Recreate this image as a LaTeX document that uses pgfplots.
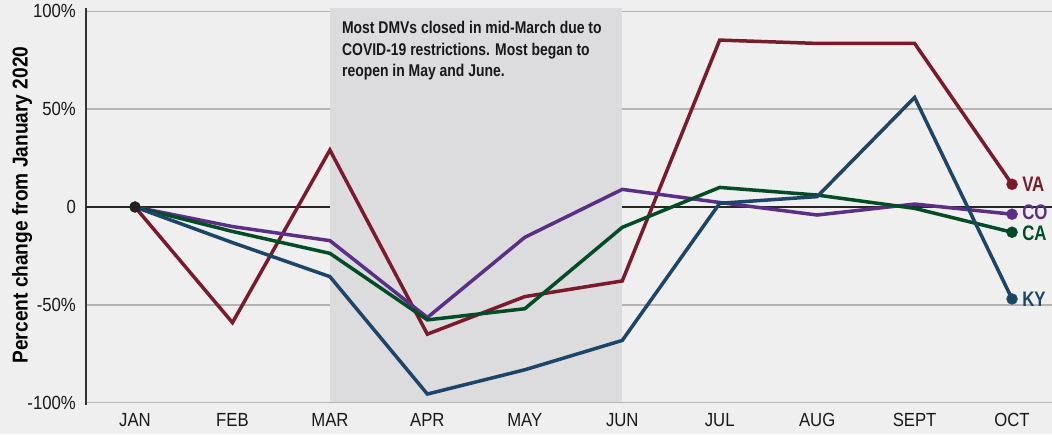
\documentclass[border=0pt]{standalone}
\usepackage{pgfplots}
\pgfplotsset{compat=1.18}
\usepackage{fontspec}
\setmainfont{Liberation Sans}
\newfontfamily\tickfont[FakeStretch=0.88]{Liberation Sans}
\newfontfamily\notefont[FakeStretch=0.82]{Liberation Sans}
\newfontfamily\labfont[FakeStretch=0.80]{Liberation Sans}
\newfontfamily\yfont[FakeStretch=0.89]{Liberation Sans}
\definecolor{bg}{HTML}{EFEFEF}
\definecolor{shadec}{HTML}{DCDCDE}
\definecolor{gridc}{HTML}{B4B4B4}
\definecolor{va}{HTML}{7A1A2B}
\definecolor{co}{HTML}{5C2F86}
\definecolor{ca}{HTML}{004D26}
\definecolor{ky}{HTML}{1D4568}
\definecolor{dot}{HTML}{231F20}

\pgfplotstableread{
x y
0 0
1 -59.1
2 29.1
3 -65
4 -45.8
5 -37.8
6 85.3
7 83.6
8 83.6
9 11.6
}\vadata
\pgfplotstableread{
x y
0 0
1 -10
2 -17.2
3 -56.5
4 -15.5
5 9
6 2.3
7 -4.1
8 1.5
9 -3.7
}\codata
\pgfplotstableread{
x y
0 0
1 -12.5
2 -23.7
3 -57.7
4 -52
5 -10.4
6 10
7 6.1
8 -0.7
9 -12.9
}\cadata
\pgfplotstableread{
x y
0 0
1 -18.2
2 -35.6
3 -95.6
4 -83.2
5 -68.2
6 1.9
7 5.3
8 56
9 -47
}\kydata

\begin{document}
\begin{tikzpicture}[x=1pt,y=1pt]
\fill[bg] (0,0) rectangle (1052,434);
\begin{axis}[
  at={(86pt,29pt)}, anchor=south west,
  scale only axis, width=966pt, height=397pt,
  xmin=-0.503, xmax=9.41, ymin=-101.2, ymax=101.7,
  axis x line*=bottom, axis y line*=left,
  x axis line style={draw=none},
  y axis line style={-, draw=black!80, line width=1.5pt},
  major tick length=0pt,
  xtick={0,...,9},
  xticklabels={JAN,FEB,MAR,APR,MAY,JUN,JUL,AUG,SEPT,OCT},
  ytick={-100,-50,50,100},
  yticklabels={-100\%,-50\%,50\%,100\%},
  extra y ticks={0}, extra y tick labels={0},
  extra y tick style={grid style={draw=black!85, line width=1.2pt}},
  ymajorgrids, grid style={draw=gridc, line width=1.5pt},
  tick label style={font=\tickfont\fontsize{19}{19}\selectfont, text=black!90},
  yticklabel style={inner sep=0pt, xshift=-10pt},
  xticklabel style={anchor=north, inner sep=0pt, yshift=-8pt},
  clip=false,
]
\fill[shadec] (axis cs:2,-99.6) rectangle (axis cs:5,101.7);
\node[anchor=north west, inner sep=0pt, align=left, font=\notefont\bfseries\fontsize{17}{21.7}\selectfont, text=black!90]
  at (axis cs:2,101.7) [xshift=12pt, yshift=-13pt]
  {Most DMVs closed in mid-March due to\\COVID-19 restrictions. Most began to\\reopen in May and June.};
\addplot[va, line width=3.5pt] table {\vadata};
\addplot[co, line width=3.5pt] table {\codata};
\addplot[ca, line width=3.5pt] table {\cadata};
\addplot[ky, line width=3.5pt] table {\kydata};
\addplot[only marks, mark=*, mark size=5.5pt, va] coordinates {(9,11.6)};
\addplot[only marks, mark=*, mark size=5.5pt, co] coordinates {(9,-3.7)};
\addplot[only marks, mark=*, mark size=5.5pt, ca] coordinates {(9,-12.9)};
\addplot[only marks, mark=*, mark size=5.5pt, ky] coordinates {(9,-47)};
\addplot[only marks, mark=*, mark size=5.5pt, dot] coordinates {(0,0)};
\begin{scope}[font=\labfont\bfseries\fontsize{21}{21}\selectfont]
\node[anchor=west, inner sep=0pt, text=va] at (axis cs:9,11.6) [xshift=10pt] {VA};
\node[anchor=west, inner sep=0pt, text=co] at (axis cs:9,-3.7) [xshift=10pt, yshift=1.5pt] {CO};
\node[anchor=west, inner sep=0pt, text=ca] at (axis cs:9,-12.9) [xshift=10pt, yshift=-1.5pt] {CA};
\node[anchor=west, inner sep=0pt, text=ky] at (axis cs:9,-47) [xshift=10pt] {KY};
\end{scope}
\end{axis}
\node[rotate=90, inner sep=0pt, font=\yfont\bfseries\fontsize{21.5}{21.5}\selectfont] at (22,229) {Percent change from January 2020};
\pgfresetboundingbox
\useasboundingbox (0,0) rectangle (1052,434);
\end{tikzpicture}
\end{document}
